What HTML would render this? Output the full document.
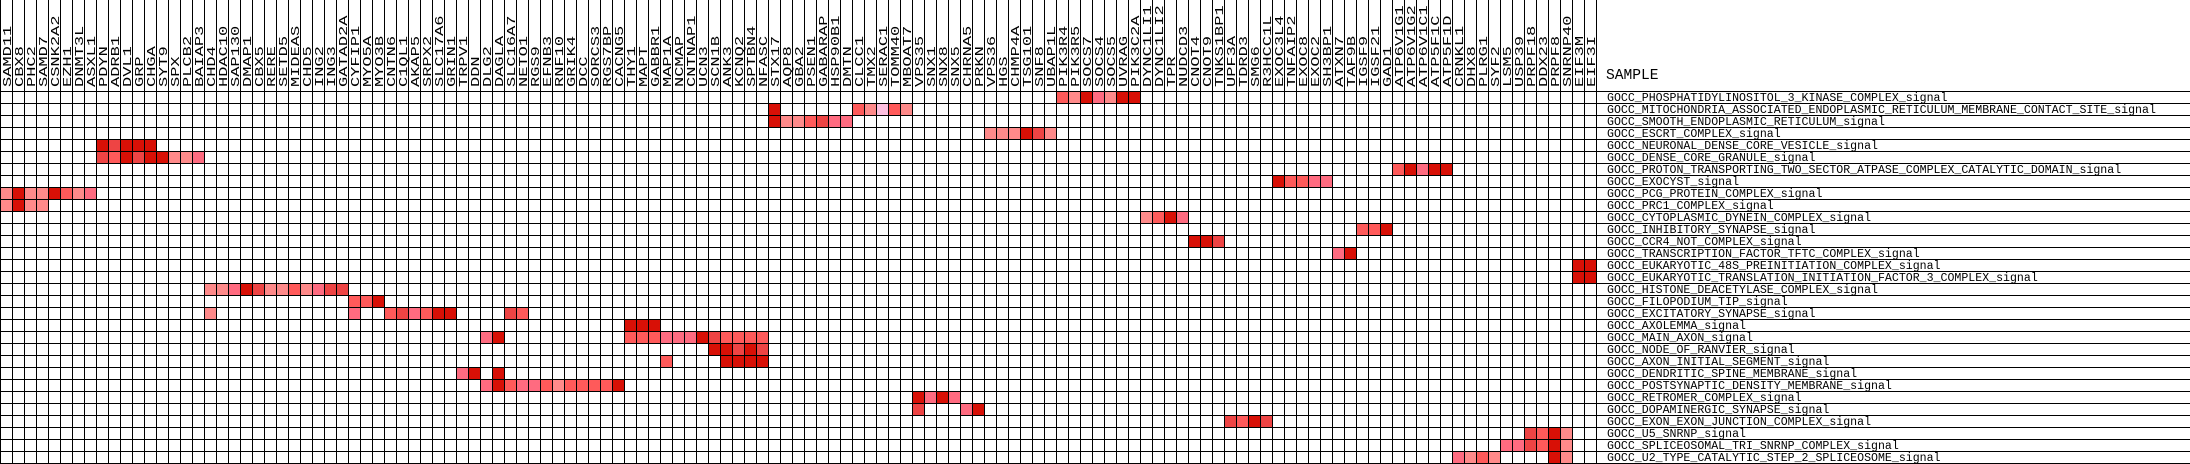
<!DOCTYPE html>
<html><head><meta charset="utf-8"><style>
html,body{margin:0;padding:0;background:#fff;}
svg{display:block;}
.c text{font-family:"Liberation Mono",monospace;font-size:11.5px;fill:#000;}
.r text{font-family:"Liberation Mono",monospace;font-size:11.58px;fill:#000;}
</style></head><body>
<svg width="2190" height="464" viewBox="0 0 2190 464" xmlns="http://www.w3.org/2000/svg">
<defs>
<pattern id="pv" x="0" y="0" width="12" height="12" patternUnits="userSpaceOnUse"><rect x="0" y="0" width="1" height="12" fill="#000"/></pattern>
<pattern id="ph" x="0" y="91" width="12" height="12" patternUnits="userSpaceOnUse"><rect x="0" y="0" width="12" height="1" fill="#000"/></pattern>
</defs>
<rect width="2190" height="464" fill="#fff"/>
<g transform="translate(0,91) scale(12)" shape-rendering="crispEdges">
<!-- r0 -->
<rect x="88" y="0" width="1" height="1" fill="#ff5a5a"/><rect x="89" y="0" width="1" height="1" fill="#ff8a8a"/><rect x="90" y="0" width="1" height="1" fill="#d81006"/><rect x="91" y="0" width="1" height="1" fill="#ff6b80"/><rect x="92" y="0" width="1" height="1" fill="#ff8a8a"/><rect x="93" y="0" width="1" height="1" fill="#d81006"/><rect x="94" y="0" width="1" height="1" fill="#d81006"/>
<!-- r1 -->
<rect x="64" y="1" width="1" height="1" fill="#d81006"/><rect x="71" y="1" width="1" height="1" fill="#ff5a5a"/><rect x="72" y="1" width="1" height="1" fill="#ff8a8a"/><rect x="73" y="1" width="1" height="1" fill="#ffc0e0"/><rect x="74" y="1" width="1" height="1" fill="#ff5a5a"/><rect x="75" y="1" width="1" height="1" fill="#ff8a8a"/>
<!-- r2 -->
<rect x="64" y="2" width="1" height="1" fill="#d81006"/><rect x="65" y="2" width="1" height="1" fill="#ff8a8a"/><rect x="66" y="2" width="1" height="1" fill="#ff8a8a"/><rect x="67" y="2" width="1" height="1" fill="#ff5a5a"/><rect x="68" y="2" width="1" height="1" fill="#ee4444"/><rect x="69" y="2" width="1" height="1" fill="#ff6b80"/><rect x="70" y="2" width="1" height="1" fill="#ff6b80"/>
<!-- r3 -->
<rect x="82" y="3" width="1" height="1" fill="#ff8a8a"/><rect x="83" y="3" width="1" height="1" fill="#ff8a8a"/><rect x="84" y="3" width="1" height="1" fill="#ff8a8a"/><rect x="85" y="3" width="1" height="1" fill="#d81006"/><rect x="86" y="3" width="1" height="1" fill="#ee4444"/><rect x="87" y="3" width="1" height="1" fill="#ff8a8a"/>
<!-- r4 -->
<rect x="8" y="4" width="1" height="1" fill="#d81006"/><rect x="9" y="4" width="1" height="1" fill="#ee4444"/><rect x="10" y="4" width="1" height="1" fill="#d81006"/><rect x="11" y="4" width="1" height="1" fill="#d81006"/><rect x="12" y="4" width="1" height="1" fill="#d81006"/>
<!-- r5 -->
<rect x="8" y="5" width="1" height="1" fill="#ee4444"/><rect x="9" y="5" width="1" height="1" fill="#ff5a5a"/><rect x="10" y="5" width="1" height="1" fill="#d81006"/><rect x="11" y="5" width="1" height="1" fill="#ee4444"/><rect x="12" y="5" width="1" height="1" fill="#d81006"/><rect x="13" y="5" width="1" height="1" fill="#d81006"/><rect x="14" y="5" width="1" height="1" fill="#ff8a8a"/><rect x="15" y="5" width="1" height="1" fill="#ff8a8a"/><rect x="16" y="5" width="1" height="1" fill="#ff6b80"/>
<!-- r6 -->
<rect x="116" y="6" width="1" height="1" fill="#ff5a5a"/><rect x="117" y="6" width="1" height="1" fill="#d81006"/><rect x="118" y="6" width="1" height="1" fill="#ff6b80"/><rect x="119" y="6" width="1" height="1" fill="#d81006"/><rect x="120" y="6" width="1" height="1" fill="#d81006"/>
<!-- r7 -->
<rect x="106" y="7" width="1" height="1" fill="#d81006"/><rect x="107" y="7" width="1" height="1" fill="#ff5a5a"/><rect x="108" y="7" width="1" height="1" fill="#ff5a5a"/><rect x="109" y="7" width="1" height="1" fill="#ff6b80"/><rect x="110" y="7" width="1" height="1" fill="#ff6b80"/>
<!-- r8 -->
<rect x="0" y="8" width="1" height="1" fill="#ff8a8a"/><rect x="1" y="8" width="1" height="1" fill="#d81006"/><rect x="2" y="8" width="1" height="1" fill="#ff8a8a"/><rect x="3" y="8" width="1" height="1" fill="#ff8a8a"/><rect x="4" y="8" width="1" height="1" fill="#d81006"/><rect x="5" y="8" width="1" height="1" fill="#ff5a5a"/><rect x="6" y="8" width="1" height="1" fill="#ff8a8a"/><rect x="7" y="8" width="1" height="1" fill="#ff6b80"/>
<!-- r9 -->
<rect x="0" y="9" width="1" height="1" fill="#ff8a8a"/><rect x="1" y="9" width="1" height="1" fill="#d81006"/><rect x="2" y="9" width="1" height="1" fill="#ff8a8a"/><rect x="3" y="9" width="1" height="1" fill="#ff8a8a"/>
<!-- r10 -->
<rect x="95" y="10" width="1" height="1" fill="#ff8a8a"/><rect x="96" y="10" width="1" height="1" fill="#ff5a5a"/><rect x="97" y="10" width="1" height="1" fill="#d81006"/><rect x="98" y="10" width="1" height="1" fill="#ff6b80"/>
<!-- r11 -->
<rect x="113" y="11" width="1" height="1" fill="#ff5a5a"/><rect x="114" y="11" width="1" height="1" fill="#ff5a5a"/><rect x="115" y="11" width="1" height="1" fill="#d81006"/>
<!-- r12 -->
<rect x="99" y="12" width="1" height="1" fill="#d81006"/><rect x="100" y="12" width="1" height="1" fill="#d81006"/><rect x="101" y="12" width="1" height="1" fill="#ee4444"/>
<!-- r13 -->
<rect x="111" y="13" width="1" height="1" fill="#ff6b80"/><rect x="112" y="13" width="1" height="1" fill="#d81006"/>
<!-- r14,15 -->
<rect x="131" y="14" width="2" height="2" fill="#d81006"/>
<!-- r16 -->
<rect x="17" y="16" width="1" height="1" fill="#ff8a8a"/><rect x="18" y="16" width="1" height="1" fill="#ff8a8a"/><rect x="19" y="16" width="1" height="1" fill="#ff6b80"/><rect x="20" y="16" width="1" height="1" fill="#d81006"/><rect x="21" y="16" width="1" height="1" fill="#ee4444"/><rect x="22" y="16" width="1" height="1" fill="#ff8a8a"/><rect x="23" y="16" width="1" height="1" fill="#ff8a8a"/><rect x="24" y="16" width="1" height="1" fill="#ff5a5a"/><rect x="25" y="16" width="1" height="1" fill="#ff8a8a"/><rect x="26" y="16" width="1" height="1" fill="#ff6b80"/><rect x="27" y="16" width="1" height="1" fill="#ee4444"/><rect x="28" y="16" width="1" height="1" fill="#ee4444"/>
<!-- r17 -->
<rect x="29" y="17" width="1" height="1" fill="#ff5a5a"/><rect x="30" y="17" width="1" height="1" fill="#ff5a5a"/><rect x="31" y="17" width="1" height="1" fill="#d81006"/>
<!-- r18 -->
<rect x="17" y="18" width="1" height="1" fill="#ff8a8a"/><rect x="29" y="18" width="1" height="1" fill="#ff6b80"/><rect x="32" y="18" width="1" height="1" fill="#ff5a5a"/><rect x="33" y="18" width="1" height="1" fill="#ee4444"/><rect x="34" y="18" width="1" height="1" fill="#ff6b80"/><rect x="35" y="18" width="1" height="1" fill="#ff5a5a"/><rect x="36" y="18" width="1" height="1" fill="#d81006"/><rect x="37" y="18" width="1" height="1" fill="#d81006"/><rect x="42" y="18" width="1" height="1" fill="#ee4444"/><rect x="43" y="18" width="1" height="1" fill="#ff5a5a"/>
<!-- r19 -->
<rect x="52" y="19" width="3" height="1" fill="#d81006"/>
<!-- r20 -->
<rect x="40" y="20" width="1" height="1" fill="#ff6b80"/><rect x="41" y="20" width="1" height="1" fill="#d81006"/><rect x="52" y="20" width="3" height="1" fill="#ff5a5a"/><rect x="55" y="20" width="3" height="1" fill="#ff6b80"/><rect x="58" y="20" width="1" height="1" fill="#d81006"/><rect x="59" y="20" width="1" height="1" fill="#ee4444"/><rect x="60" y="20" width="4" height="1" fill="#ff5a5a"/>
<!-- r21 -->
<rect x="59" y="21" width="1" height="1" fill="#d81006"/><rect x="60" y="21" width="1" height="1" fill="#d81006"/><rect x="61" y="21" width="1" height="1" fill="#ee4444"/><rect x="62" y="21" width="1" height="1" fill="#d81006"/><rect x="63" y="21" width="1" height="1" fill="#ee4444"/>
<!-- r22 -->
<rect x="55" y="22" width="1" height="1" fill="#ff5a5a"/><rect x="60" y="22" width="4" height="1" fill="#d81006"/>
<!-- r23 -->
<rect x="38" y="23" width="1" height="1" fill="#ff6b80"/><rect x="39" y="23" width="1" height="1" fill="#d81006"/><rect x="41" y="23" width="1" height="1" fill="#d81006"/>
<!-- r24 -->
<rect x="40" y="24" width="1" height="1" fill="#ff6b80"/><rect x="41" y="24" width="1" height="1" fill="#d81006"/><rect x="42" y="24" width="1" height="1" fill="#ff5a5a"/><rect x="43" y="24" width="2" height="1" fill="#ff6b80"/><rect x="45" y="24" width="1" height="1" fill="#ff5a5a"/><rect x="46" y="24" width="1" height="1" fill="#ff8a8a"/><rect x="47" y="24" width="4" height="1" fill="#ff5a5a"/><rect x="51" y="24" width="1" height="1" fill="#d81006"/>
<!-- r25 -->
<rect x="76" y="25" width="1" height="1" fill="#d81006"/><rect x="77" y="25" width="1" height="1" fill="#ff6b80"/><rect x="78" y="25" width="1" height="1" fill="#d81006"/><rect x="79" y="25" width="1" height="1" fill="#ff6b80"/>
<!-- r26 -->
<rect x="76" y="26" width="1" height="1" fill="#ee4444"/><rect x="80" y="26" width="1" height="1" fill="#ff6b80"/><rect x="81" y="26" width="1" height="1" fill="#d81006"/>
<!-- r27 -->
<rect x="102" y="27" width="1" height="1" fill="#ee4444"/><rect x="103" y="27" width="1" height="1" fill="#ff5a5a"/><rect x="104" y="27" width="1" height="1" fill="#d81006"/><rect x="105" y="27" width="1" height="1" fill="#ee4444"/>
<!-- r28 -->
<rect x="127" y="28" width="1" height="1" fill="#ee4444"/><rect x="128" y="28" width="1" height="1" fill="#ff5a5a"/><rect x="129" y="28" width="1" height="1" fill="#d81006"/><rect x="130" y="28" width="1" height="1" fill="#ff8a8a"/>
<!-- r29 -->
<rect x="125" y="29" width="2" height="1" fill="#ff6b80"/><rect x="127" y="29" width="1" height="1" fill="#ee4444"/><rect x="128" y="29" width="1" height="1" fill="#ff5a5a"/><rect x="129" y="29" width="1" height="1" fill="#d81006"/><rect x="130" y="29" width="1" height="1" fill="#ff8a8a"/>
<!-- r30 -->
<rect x="121" y="30" width="1" height="1" fill="#ff6b80"/><rect x="122" y="30" width="1" height="1" fill="#ff8a8a"/><rect x="123" y="30" width="1" height="1" fill="#ff5a5a"/><rect x="124" y="30" width="1" height="1" fill="#ff8a8a"/><rect x="129" y="30" width="1" height="1" fill="#d81006"/><rect x="130" y="30" width="1" height="1" fill="#ff8a8a"/>
</g>
<rect x="0" y="0" width="1597" height="463" fill="url(#pv)" shape-rendering="crispEdges"/>
<rect x="0" y="91" width="2190" height="373" fill="url(#ph)" shape-rendering="crispEdges"/>

<g class="c">
<text transform="translate(11,87) rotate(-90) scale(1.48,1)">SAMD11</text>
<text transform="translate(23,87) rotate(-90) scale(1.48,1)">CBX8</text>
<text transform="translate(35,87) rotate(-90) scale(1.48,1)">PHC2</text>
<text transform="translate(47,87) rotate(-90) scale(1.48,1)">SAMD7</text>
<text transform="translate(59,87) rotate(-90) scale(1.48,1)">CSNK2A2</text>
<text transform="translate(71,87) rotate(-90) scale(1.48,1)">EZH1</text>
<text transform="translate(83,87) rotate(-90) scale(1.48,1)">DNMT3L</text>
<text transform="translate(95,87) rotate(-90) scale(1.48,1)">ASXL1</text>
<text transform="translate(107,87) rotate(-90) scale(1.48,1)">PDYN</text>
<text transform="translate(119,87) rotate(-90) scale(1.48,1)">ADRB1</text>
<text transform="translate(131,87) rotate(-90) scale(1.48,1)">DVL1</text>
<text transform="translate(143,87) rotate(-90) scale(1.48,1)">GRP</text>
<text transform="translate(155,87) rotate(-90) scale(1.48,1)">CHGA</text>
<text transform="translate(167,87) rotate(-90) scale(1.48,1)">SYT9</text>
<text transform="translate(179,87) rotate(-90) scale(1.48,1)">SPX</text>
<text transform="translate(191,87) rotate(-90) scale(1.48,1)">PLCB2</text>
<text transform="translate(203,87) rotate(-90) scale(1.48,1)">BAIAP3</text>
<text transform="translate(215,87) rotate(-90) scale(1.48,1)">CHD4</text>
<text transform="translate(227,87) rotate(-90) scale(1.48,1)">HDAC10</text>
<text transform="translate(239,87) rotate(-90) scale(1.48,1)">SAP130</text>
<text transform="translate(251,87) rotate(-90) scale(1.48,1)">DMAP1</text>
<text transform="translate(263,87) rotate(-90) scale(1.48,1)">CBX5</text>
<text transform="translate(275,87) rotate(-90) scale(1.48,1)">RERE</text>
<text transform="translate(287,87) rotate(-90) scale(1.48,1)">SETD5</text>
<text transform="translate(299,87) rotate(-90) scale(1.48,1)">MIDEAS</text>
<text transform="translate(311,87) rotate(-90) scale(1.48,1)">CHD5</text>
<text transform="translate(323,87) rotate(-90) scale(1.48,1)">ING2</text>
<text transform="translate(335,87) rotate(-90) scale(1.48,1)">ING3</text>
<text transform="translate(347,87) rotate(-90) scale(1.48,1)">GATAD2A</text>
<text transform="translate(359,87) rotate(-90) scale(1.48,1)">CYFIP1</text>
<text transform="translate(371,87) rotate(-90) scale(1.48,1)">MYO5A</text>
<text transform="translate(383,87) rotate(-90) scale(1.48,1)">MYO3B</text>
<text transform="translate(395,87) rotate(-90) scale(1.48,1)">CNTN6</text>
<text transform="translate(407,87) rotate(-90) scale(1.48,1)">C1QL1</text>
<text transform="translate(419,87) rotate(-90) scale(1.48,1)">AKAP5</text>
<text transform="translate(431,87) rotate(-90) scale(1.48,1)">SRPX2</text>
<text transform="translate(443,87) rotate(-90) scale(1.48,1)">SLC17A6</text>
<text transform="translate(455,87) rotate(-90) scale(1.48,1)">GRIN1</text>
<text transform="translate(467,87) rotate(-90) scale(1.48,1)">TRPV1</text>
<text transform="translate(479,87) rotate(-90) scale(1.48,1)">DDN</text>
<text transform="translate(491,87) rotate(-90) scale(1.48,1)">DLG2</text>
<text transform="translate(503,87) rotate(-90) scale(1.48,1)">DAGLA</text>
<text transform="translate(515,87) rotate(-90) scale(1.48,1)">SLC16A7</text>
<text transform="translate(527,87) rotate(-90) scale(1.48,1)">NETO1</text>
<text transform="translate(539,87) rotate(-90) scale(1.48,1)">RGS9</text>
<text transform="translate(551,87) rotate(-90) scale(1.48,1)">EFNB3</text>
<text transform="translate(563,87) rotate(-90) scale(1.48,1)">RNF10</text>
<text transform="translate(575,87) rotate(-90) scale(1.48,1)">GRIK4</text>
<text transform="translate(587,87) rotate(-90) scale(1.48,1)">DCC</text>
<text transform="translate(599,87) rotate(-90) scale(1.48,1)">SORCS3</text>
<text transform="translate(611,87) rotate(-90) scale(1.48,1)">RGS7BP</text>
<text transform="translate(623,87) rotate(-90) scale(1.48,1)">CACNG5</text>
<text transform="translate(635,87) rotate(-90) scale(1.48,1)">THY1</text>
<text transform="translate(647,87) rotate(-90) scale(1.48,1)">MAPT</text>
<text transform="translate(659,87) rotate(-90) scale(1.48,1)">GABBR1</text>
<text transform="translate(671,87) rotate(-90) scale(1.48,1)">MAP1A</text>
<text transform="translate(683,87) rotate(-90) scale(1.48,1)">NCMAP</text>
<text transform="translate(695,87) rotate(-90) scale(1.48,1)">CNTNAP1</text>
<text transform="translate(707,87) rotate(-90) scale(1.48,1)">UCN3</text>
<text transform="translate(719,87) rotate(-90) scale(1.48,1)">SCN1B</text>
<text transform="translate(731,87) rotate(-90) scale(1.48,1)">ANK3</text>
<text transform="translate(743,87) rotate(-90) scale(1.48,1)">KCNQ2</text>
<text transform="translate(755,87) rotate(-90) scale(1.48,1)">SPTBN4</text>
<text transform="translate(767,87) rotate(-90) scale(1.48,1)">NFASC</text>
<text transform="translate(779,87) rotate(-90) scale(1.48,1)">STX17</text>
<text transform="translate(791,87) rotate(-90) scale(1.48,1)">AQP8</text>
<text transform="translate(803,87) rotate(-90) scale(1.48,1)">GBA2</text>
<text transform="translate(815,87) rotate(-90) scale(1.48,1)">PSEN1</text>
<text transform="translate(827,87) rotate(-90) scale(1.48,1)">GABARAP</text>
<text transform="translate(839,87) rotate(-90) scale(1.48,1)">HSP90B1</text>
<text transform="translate(851,87) rotate(-90) scale(1.48,1)">DMTN</text>
<text transform="translate(863,87) rotate(-90) scale(1.48,1)">CLCC1</text>
<text transform="translate(875,87) rotate(-90) scale(1.48,1)">TMX2</text>
<text transform="translate(887,87) rotate(-90) scale(1.48,1)">SERAC1</text>
<text transform="translate(899,87) rotate(-90) scale(1.48,1)">TOMM40</text>
<text transform="translate(911,87) rotate(-90) scale(1.48,1)">MBOAT7</text>
<text transform="translate(923,87) rotate(-90) scale(1.48,1)">VPS35</text>
<text transform="translate(935,87) rotate(-90) scale(1.48,1)">SNX1</text>
<text transform="translate(947,87) rotate(-90) scale(1.48,1)">SNX8</text>
<text transform="translate(959,87) rotate(-90) scale(1.48,1)">SNX5</text>
<text transform="translate(971,87) rotate(-90) scale(1.48,1)">CHRNA5</text>
<text transform="translate(983,87) rotate(-90) scale(1.48,1)">PRKN</text>
<text transform="translate(995,87) rotate(-90) scale(1.48,1)">VPS36</text>
<text transform="translate(1007,87) rotate(-90) scale(1.48,1)">HGS</text>
<text transform="translate(1019,87) rotate(-90) scale(1.48,1)">CHMP4A</text>
<text transform="translate(1031,87) rotate(-90) scale(1.48,1)">TSG101</text>
<text transform="translate(1043,87) rotate(-90) scale(1.48,1)">SNF8</text>
<text transform="translate(1055,87) rotate(-90) scale(1.48,1)">UBAP1L</text>
<text transform="translate(1067,87) rotate(-90) scale(1.48,1)">PIK3R4</text>
<text transform="translate(1079,87) rotate(-90) scale(1.48,1)">PIK3R5</text>
<text transform="translate(1091,87) rotate(-90) scale(1.48,1)">SOCS7</text>
<text transform="translate(1103,87) rotate(-90) scale(1.48,1)">SOCS4</text>
<text transform="translate(1115,87) rotate(-90) scale(1.48,1)">SOCS5</text>
<text transform="translate(1127,87) rotate(-90) scale(1.48,1)">UVRAG</text>
<text transform="translate(1139,87) rotate(-90) scale(1.48,1)">PIK3C2A</text>
<text transform="translate(1151,87) rotate(-90) scale(1.48,1)">DYNC1LI1</text>
<text transform="translate(1163,87) rotate(-90) scale(1.48,1)">DYNC1LI2</text>
<text transform="translate(1175,87) rotate(-90) scale(1.48,1)">TPR</text>
<text transform="translate(1187,87) rotate(-90) scale(1.48,1)">NUDCD3</text>
<text transform="translate(1199,87) rotate(-90) scale(1.48,1)">CNOT4</text>
<text transform="translate(1211,87) rotate(-90) scale(1.48,1)">CNOT9</text>
<text transform="translate(1223,87) rotate(-90) scale(1.48,1)">TNKS1BP1</text>
<text transform="translate(1235,87) rotate(-90) scale(1.48,1)">UPF3A</text>
<text transform="translate(1247,87) rotate(-90) scale(1.48,1)">TDRD3</text>
<text transform="translate(1259,87) rotate(-90) scale(1.48,1)">SMG6</text>
<text transform="translate(1271,87) rotate(-90) scale(1.48,1)">R3HCC1L</text>
<text transform="translate(1283,87) rotate(-90) scale(1.48,1)">EXOC3L4</text>
<text transform="translate(1295,87) rotate(-90) scale(1.48,1)">TNFAIP2</text>
<text transform="translate(1307,87) rotate(-90) scale(1.48,1)">EXOC8</text>
<text transform="translate(1319,87) rotate(-90) scale(1.48,1)">EXOC2</text>
<text transform="translate(1331,87) rotate(-90) scale(1.48,1)">SH3BP1</text>
<text transform="translate(1343,87) rotate(-90) scale(1.48,1)">ATXN7</text>
<text transform="translate(1355,87) rotate(-90) scale(1.48,1)">TAF9B</text>
<text transform="translate(1367,87) rotate(-90) scale(1.48,1)">IGSF9</text>
<text transform="translate(1379,87) rotate(-90) scale(1.48,1)">IGSF21</text>
<text transform="translate(1391,87) rotate(-90) scale(1.48,1)">GAD1</text>
<text transform="translate(1403,87) rotate(-90) scale(1.48,1)">ATP6V1G1</text>
<text transform="translate(1415,87) rotate(-90) scale(1.48,1)">ATP6V1G2</text>
<text transform="translate(1427,87) rotate(-90) scale(1.48,1)">ATP6V1C1</text>
<text transform="translate(1439,87) rotate(-90) scale(1.48,1)">ATP5F1C</text>
<text transform="translate(1451,87) rotate(-90) scale(1.48,1)">ATP5F1D</text>
<text transform="translate(1463,87) rotate(-90) scale(1.48,1)">CRNKL1</text>
<text transform="translate(1475,87) rotate(-90) scale(1.48,1)">DHX8</text>
<text transform="translate(1487,87) rotate(-90) scale(1.48,1)">PLRG1</text>
<text transform="translate(1499,87) rotate(-90) scale(1.48,1)">SYF2</text>
<text transform="translate(1511,87) rotate(-90) scale(1.48,1)">LSM5</text>
<text transform="translate(1523,87) rotate(-90) scale(1.48,1)">USP39</text>
<text transform="translate(1535,87) rotate(-90) scale(1.48,1)">PRPF18</text>
<text transform="translate(1547,87) rotate(-90) scale(1.48,1)">DDX23</text>
<text transform="translate(1559,87) rotate(-90) scale(1.48,1)">PRPF8</text>
<text transform="translate(1571,87) rotate(-90) scale(1.48,1)">SNRNP40</text>
<text transform="translate(1583,87) rotate(-90) scale(1.48,1)">EIF3M</text>
<text transform="translate(1595,87) rotate(-90) scale(1.48,1)">EIF3I</text>
</g>

<text x="1606" y="79" style="font-family:'Liberation Mono',monospace;font-size:14.6px;fill:#000">SAMPLE</text>

<g class="r">
<text x="1607" y="101">GOCC_PHOSPHATIDYLINOSITOL_3_KINASE_COMPLEX_signal</text>
<text x="1607" y="113">GOCC_MITOCHONDRIA_ASSOCIATED_ENDOPLASMIC_RETICULUM_MEMBRANE_CONTACT_SITE_signal</text>
<text x="1607" y="125">GOCC_SMOOTH_ENDOPLASMIC_RETICULUM_signal</text>
<text x="1607" y="137">GOCC_ESCRT_COMPLEX_signal</text>
<text x="1607" y="149">GOCC_NEURONAL_DENSE_CORE_VESICLE_signal</text>
<text x="1607" y="161">GOCC_DENSE_CORE_GRANULE_signal</text>
<text x="1607" y="173">GOCC_PROTON_TRANSPORTING_TWO_SECTOR_ATPASE_COMPLEX_CATALYTIC_DOMAIN_signal</text>
<text x="1607" y="185">GOCC_EXOCYST_signal</text>
<text x="1607" y="197">GOCC_PCG_PROTEIN_COMPLEX_signal</text>
<text x="1607" y="209">GOCC_PRC1_COMPLEX_signal</text>
<text x="1607" y="221">GOCC_CYTOPLASMIC_DYNEIN_COMPLEX_signal</text>
<text x="1607" y="233">GOCC_INHIBITORY_SYNAPSE_signal</text>
<text x="1607" y="245">GOCC_CCR4_NOT_COMPLEX_signal</text>
<text x="1607" y="257">GOCC_TRANSCRIPTION_FACTOR_TFTC_COMPLEX_signal</text>
<text x="1607" y="269">GOCC_EUKARYOTIC_48S_PREINITIATION_COMPLEX_signal</text>
<text x="1607" y="281">GOCC_EUKARYOTIC_TRANSLATION_INITIATION_FACTOR_3_COMPLEX_signal</text>
<text x="1607" y="293">GOCC_HISTONE_DEACETYLASE_COMPLEX_signal</text>
<text x="1607" y="305">GOCC_FILOPODIUM_TIP_signal</text>
<text x="1607" y="317">GOCC_EXCITATORY_SYNAPSE_signal</text>
<text x="1607" y="329">GOCC_AXOLEMMA_signal</text>
<text x="1607" y="341">GOCC_MAIN_AXON_signal</text>
<text x="1607" y="353">GOCC_NODE_OF_RANVIER_signal</text>
<text x="1607" y="365">GOCC_AXON_INITIAL_SEGMENT_signal</text>
<text x="1607" y="377">GOCC_DENDRITIC_SPINE_MEMBRANE_signal</text>
<text x="1607" y="389">GOCC_POSTSYNAPTIC_DENSITY_MEMBRANE_signal</text>
<text x="1607" y="401">GOCC_RETROMER_COMPLEX_signal</text>
<text x="1607" y="413">GOCC_DOPAMINERGIC_SYNAPSE_signal</text>
<text x="1607" y="425">GOCC_EXON_EXON_JUNCTION_COMPLEX_signal</text>
<text x="1607" y="437">GOCC_U5_SNRNP_signal</text>
<text x="1607" y="449">GOCC_SPLICEOSOMAL_TRI_SNRNP_COMPLEX_signal</text>
<text x="1607" y="461">GOCC_U2_TYPE_CATALYTIC_STEP_2_SPLICEOSOME_signal</text>
</g>
</svg>
</body></html>
